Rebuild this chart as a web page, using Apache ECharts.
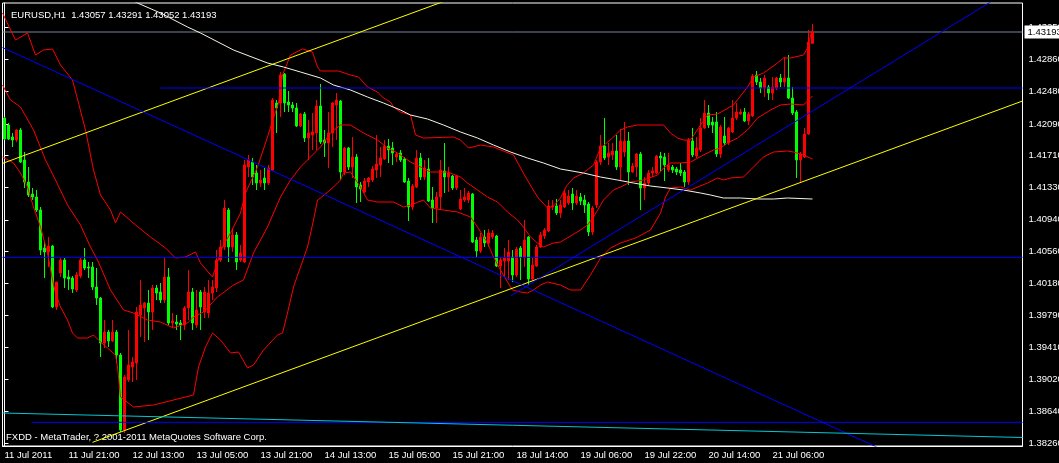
<!DOCTYPE html>
<html><head><meta charset="utf-8">
<script src="https://cdn.jsdelivr.net/npm/echarts@6/dist/echarts.min.js"></script>
<style>html,body{margin:0;padding:0;background:#000;overflow:hidden}#c{width:1059px;height:463px}</style>
</head><body><div id="c"></div>
<script>
const symbolTitle = 'EURUSD,H1';
const copyrightText = 'FXDD - MetaTrader, ? 2001-2011 MetaQuotes Software Corp.';
const timeLabels = ['11 Jul 2011','11 Jul 21:00','12 Jul 13:00','13 Jul 05:00','13 Jul 21:00','14 Jul 13:00','15 Jul 05:00','15 Jul 21:00','18 Jul 14:00','19 Jul 06:00','19 Jul 22:00','20 Jul 14:00','21 Jul 06:00'];
const priceTicks = [1.43250,1.42860,1.42480,1.42090,1.41710,1.41330,1.40940,1.40560,1.40180,1.39790,1.39410,1.39020,1.38640,1.38260];
const priceRange = [1.38225, 1.43541];
const barSlots = 255;
// [open, close, low, high]
const candles = [
[1.42161,1.41909,1.41897,1.42173],[1.42077,1.41909,1.41897,1.42101],[1.41933,1.41897,1.41813,1.41981],[1.41897,1.42017,1.41873,1.42029],
[1.42017,1.41633,1.41621,1.42041],[1.41657,1.41393,1.41321,1.41753],[1.41393,1.41237,1.41213,1.41573],[1.41249,1.41213,1.41177,1.41321],
[1.41213,1.41057,1.41033,1.41297],[1.41057,1.40577,1.40517,1.41093],[1.40601,1.40553,1.40241,1.40673],[1.40553,1.40625,1.40373,1.40733],
[1.40625,1.39893,1.39881,1.40637],[1.39893,1.40193,1.39857,1.40193],[1.40301,1.40457,1.40253,1.40481],[1.40457,1.40241,1.40121,1.40481],
[1.40253,1.40229,1.40097,1.40337],[1.40241,1.40109,1.40061,1.40265],[1.40097,1.40277,1.40073,1.40313],[1.40265,1.40457,1.40241,1.40481],
[1.40457,1.40361,1.40337,1.40601],[1.40373,1.40361,1.40241,1.40433],[1.40373,1.40133,1.40097,1.40433],[1.40133,1.40001,1.39917,1.40361],
[1.40001,1.39461,1.39293,1.40013],[1.39461,1.39593,1.39401,1.39737],[1.39593,1.39485,1.39413,1.39617],[1.39485,1.39593,1.39473,1.39737],
[1.39593,1.39317,1.39221,1.39617],[1.39317,1.38417,1.38393,1.39341],[1.38417,1.39053,1.38381,1.39077],[1.39017,1.39197,1.38993,1.39617],
[1.39173,1.39233,1.38993,1.39293],[1.39221,1.39833,1.39017,1.39893],[1.39797,1.39917,1.39533,1.40217],[1.39881,1.39941,1.39473,1.39953],
[1.39941,1.39833,1.39497,1.40097],[1.39833,1.40121,1.39617,1.40157],[1.40121,1.40061,1.39977,1.40157],[1.40073,1.39977,1.39941,1.40181],
[1.39977,1.40253,1.39941,1.40481],[1.40253,1.39701,1.39677,1.40361],[1.39701,1.39725,1.39653,1.39821],[1.39713,1.39689,1.39617,1.39797],
[1.39701,1.39677,1.39497,1.39737],[1.39677,1.39881,1.39617,1.39905],[1.39881,1.40073,1.39737,1.40337],[1.40073,1.39701,1.39617,1.40121],
[1.39677,1.39857,1.39641,1.40097],[1.40073,1.39893,1.39617,1.40097],[1.39833,1.40073,1.39761,1.40133],[1.39821,1.40061,1.39761,1.40217],
[1.40061,1.40133,1.39977,1.40217],[1.40121,1.40457,1.40073,1.40577],[1.40457,1.40613,1.40433,1.40697],[1.40613,1.41081,1.40577,1.41177],
[1.41057,1.40613,1.40433,1.41081],[1.40613,1.40757,1.40553,1.40841],[1.40757,1.40433,1.40337,1.40793],[1.40457,1.40541,1.40433,1.40637],
[1.40433,1.41597,1.40421,1.41657],[1.41573,1.41657,1.41453,1.41717],[1.41633,1.41453,1.41357,1.41681],[1.41501,1.41381,1.41297,1.41597],
[1.41381,1.41417,1.41333,1.41537],[1.41441,1.41381,1.41297,1.41561],[1.41381,1.41561,1.41357,1.41597],[1.41537,1.42377,1.41525,1.42401],
[1.42341,1.42281,1.41981,1.42377],[1.42341,1.42677,1.42173,1.42713],[1.42689,1.42341,1.42233,1.42701],[1.42353,1.42317,1.42233,1.42485],
[1.42317,1.42281,1.42233,1.42353],[1.42281,1.42065,1.42053,1.42341],[1.42065,1.42209,1.42053,1.42221],[1.42209,1.41921,1.41873,1.42233],
[1.41921,1.41981,1.41657,1.42137],[1.41957,1.41993,1.41777,1.42221],[1.41981,1.42305,1.41777,1.42377],[1.42305,1.41873,1.41849,1.42569],
[1.41897,1.41861,1.41693,1.42017],[1.41861,1.41981,1.41561,1.42233],[1.41981,1.42341,1.41813,1.42353],[1.42317,1.42377,1.41897,1.42461],
[1.42365,1.41513,1.41417,1.42377],[1.41513,1.41801,1.41477,1.41813],[1.41801,1.41573,1.41537,1.41813],[1.41573,1.41693,1.41441,1.41933],
[1.41693,1.41333,1.41141,1.41729],[1.41357,1.41309,1.41153,1.41393],[1.41273,1.41405,1.41261,1.41441],[1.41393,1.41441,1.41333,1.41453],
[1.41417,1.41549,1.41393,1.41585],[1.41537,1.41609,1.41441,1.41957],[1.41597,1.41681,1.41453,1.41813],[1.41669,1.41825,1.41657,1.41897],
[1.41825,1.41777,1.41621,1.41909],[1.41801,1.41741,1.41597,1.41873],[1.41693,1.41729,1.41633,1.41753],[1.41741,1.41657,1.41633,1.41777],
[1.41669,1.41393,1.41381,1.41693],[1.41405,1.41093,1.40925,1.41441],[1.41093,1.41345,1.41057,1.41369],[1.41333,1.41681,1.41321,1.41777],
[1.41681,1.41453,1.41417,1.41741],[1.41453,1.41561,1.41417,1.41657],[1.41549,1.41165,1.41153,1.41681],[1.41177,1.41081,1.40901,1.41333],
[1.41081,1.41213,1.40901,1.41273],[1.41213,1.41537,1.41057,1.41657],[1.41525,1.41453,1.41261,1.41861],[1.41453,1.41501,1.41273,1.41573],
[1.41465,1.41321,1.41297,1.41477],[1.41321,1.41465,1.41297,1.41477],[1.41069,1.41189,1.41057,1.41297],[1.41177,1.41213,1.41153,1.41321],
[1.41177,1.41261,1.41141,1.41285],[1.41249,1.40673,1.40661,1.41261],[1.40697,1.40565,1.40493,1.40733],[1.40565,1.40733,1.40541,1.40781],
[1.40733,1.40661,1.40613,1.40817],[1.40661,1.40781,1.40613,1.40829],[1.40733,1.40781,1.40709,1.40817],[1.40745,1.40385,1.40373,1.40757],
[1.40385,1.40457,1.40121,1.40493],[1.40445,1.40481,1.40253,1.40601],[1.40445,1.40553,1.40217,1.40697],[1.40493,1.40277,1.40193,1.40577],
[1.40277,1.40589,1.40253,1.40613],[1.40601,1.40493,1.40217,1.40625],[1.40493,1.40697,1.40373,1.40937],[1.40733,1.40229,1.40157,1.40745],
[1.40229,1.40397,1.40217,1.40481],[1.40385,1.40613,1.40373,1.40637],[1.40613,1.40757,1.40601,1.40793],[1.40745,1.40817,1.40709,1.40841],
[1.40805,1.41105,1.40793,1.41177],[1.41093,1.41105,1.41057,1.41177],[1.41105,1.41021,1.40997,1.41189],[1.41021,1.41117,1.40961,1.41177],
[1.41093,1.41261,1.41081,1.41297],[1.41141,1.41225,1.41117,1.41297],[1.41249,1.41141,1.41057,1.41321],[1.41141,1.41225,1.41117,1.41297],
[1.41213,1.41165,1.41117,1.41261],[1.41177,1.41117,1.41021,1.41237],[1.41129,1.40793,1.40745,1.41153],[1.40793,1.41081,1.40757,1.41105],
[1.41117,1.41633,1.41081,1.41657],[1.41633,1.41825,1.41597,1.41957],[1.41825,1.41681,1.41657,1.42161],[1.41693,1.41741,1.41597,1.41861],
[1.41717,1.41765,1.41657,1.41861],[1.41765,1.41573,1.41537,1.41957],[1.41573,1.41885,1.41417,1.42029],[1.41753,1.41885,1.41693,1.42113],
[1.41885,1.41513,1.41357,1.41993],[1.41513,1.41585,1.41501,1.41621],[1.41573,1.41729,1.41453,1.41741],[1.41729,1.41321,1.41057,1.41753],
[1.41321,1.41381,1.41177,1.41453],[1.41381,1.41501,1.41357,1.41537],[1.41501,1.41525,1.41453,1.41573],[1.41501,1.41705,1.41489,1.41717],
[1.41705,1.41681,1.41513,1.41753],[1.41693,1.41597,1.41405,1.41741],[1.41537,1.41597,1.41513,1.41741],[1.41573,1.41537,1.41501,1.41597],
[1.41549,1.41513,1.41477,1.41573],[1.41537,1.41501,1.41465,1.41621],[1.41513,1.41393,1.41333,1.41537],[1.41393,1.41897,1.41357,1.41921],
[1.41885,1.41717,1.41693,1.42041],[1.41705,1.41801,1.41681,1.41933],[1.41777,1.42041,1.41753,1.42161],[1.42041,1.42221,1.42029,1.42377],
[1.42221,1.42077,1.42041,1.42317],[1.42113,1.42077,1.41981,1.42173],[1.42113,1.41729,1.41693,1.42233],[1.41729,1.42053,1.41681,1.42077],
[1.41945,1.41861,1.41837,1.42173],[1.41861,1.42041,1.41837,1.42053],[1.41993,1.42161,1.41981,1.42377],[1.42161,1.42233,1.42137,1.42341],
[1.42209,1.42233,1.42197,1.42269],[1.42233,1.42125,1.42113,1.42281],[1.42125,1.42209,1.42077,1.42233],[1.42185,1.42665,1.42173,1.42689],
[1.42677,1.42593,1.42557,1.42725],[1.42593,1.42521,1.42461,1.42641],[1.42521,1.42641,1.42413,1.42677],[1.42533,1.42461,1.42377,1.42557],
[1.42461,1.42533,1.42377,1.42653],[1.42521,1.42641,1.42497,1.42653],[1.42641,1.42593,1.42533,1.42689],[1.42593,1.42641,1.42533,1.42893],
[1.42641,1.42401,1.42389,1.42917],[1.42401,1.42221,1.42197,1.42533],[1.42233,1.41657,1.41441,1.42257],[1.41657,1.41729,1.41381,1.41753],
[1.41693,1.41969,1.41681,1.42041],[1.41969,1.43073,1.41957,1.43217],[1.43057,1.43193,1.43052,1.43291]
];
// Bollinger bands: [bar index, price]
const upperBand = [[-0.5,1.43421],[2.75,1.43097],[5.75,1.43181],[7.75,1.42917],[9.75,1.42977],[12,1.42989],[14,1.42797],[17,1.42617],[20.25,1.42017],[22.25,1.41537],[24,1.41237],[26.5,1.41057],[27.75,1.40901],[29,1.41033],[32.75,1.40877],[36.5,1.40733],[40.25,1.40601],[42.75,1.40481],[45.25,1.40493],[47.75,1.40553],[49,1.40421],[52,1.40253],[54.5,1.40613],[56.5,1.40781],[59,1.41021],[60.25,1.41261],[63.25,1.41573],[65.75,1.41933],[67.25,1.42161],[68.5,1.42341],[69.5,1.42677],[71.5,1.42917],[74.5,1.42989],[77,1.42953],[78.25,1.42773],[79,1.42725],[83.5,1.42725],[86.5,1.42677],[88.5,1.42653],[90.75,1.42533],[93.25,1.42473],[94.75,1.42401],[96.5,1.42353],[97.25,1.42293],[99,1.42233],[101.5,1.42197],[102.25,1.42053],[102.75,1.41957],[104.75,1.41921],[112.25,1.41933],[114,1.41897],[116,1.41801],[119,1.41837],[122.25,1.41813],[127.25,1.41717],[130.25,1.41453],[133.25,1.41213],[135.75,1.41081],[137.25,1.41105],[139,1.41201],[140.5,1.41345],[142.25,1.41441],[144.75,1.41501],[147.25,1.41597],[149,1.41801],[152,1.41921],[154,1.42017],[155.75,1.42053],[158.25,1.42077],[161.5,1.42077],[164.75,1.42077],[166.5,1.41981],[168.25,1.41921],[169.75,1.41897],[171.5,1.41897],[174,1.42077],[175.75,1.42197],[178.25,1.42209],[182.25,1.42317],[185.75,1.42533],[187.25,1.42653],[189.75,1.42701],[193.25,1.42821],[194.75,1.42881],[196.5,1.42881],[199.75,1.42917],[200.75,1.43001],[201.75,1.43193],[202,1.43217]];
const middleBand = [[-0.5,1.42557],[1.5,1.42377],[4,1.42293],[7.25,1.42017],[10.25,1.41657],[12.75,1.41417],[15.75,1.41117],[19,1.40877],[21.5,1.40613],[23.25,1.40457],[26.5,1.40097],[29.75,1.39857],[32.25,1.39821],[35.75,1.39737],[39,1.39713],[42.25,1.39641],[45.75,1.39701],[47.25,1.39773],[49.75,1.39833],[53.25,1.40013],[57.25,1.40157],[59.75,1.40217],[62.25,1.40541],[65.75,1.40853],[69,1.41213],[71.5,1.41417],[74,1.41573],[75.75,1.41657],[79,1.41813],[81.5,1.41981],[84,1.42077],[86.5,1.42077],[89.75,1.41981],[93.25,1.41897],[95.75,1.41801],[98.25,1.41741],[101.5,1.41633],[106.5,1.41513],[110.75,1.41513],[114,1.41453],[115.75,1.41381],[118.25,1.41297],[120.75,1.41213],[123.25,1.41153],[125.75,1.41033],[128.25,1.40937],[129.75,1.40853],[131.5,1.40733],[133.25,1.40661],[134.75,1.40613],[137.25,1.40661],[139,1.40673],[144,1.40817],[145.75,1.40877],[147.25,1.40973],[149.75,1.41177],[152.25,1.41297],[154,1.41333],[156.5,1.41393],[159.75,1.41417],[163.25,1.41477],[164.75,1.41561],[166.5,1.41621],[169,1.41621],[171.5,1.41633],[174.75,1.41717],[177.25,1.41777],[179,1.41801],[180.75,1.41861],[183.25,1.41921],[185.75,1.42017],[188.25,1.42161],[191.5,1.42257],[194,1.42317],[196.5,1.42329],[199.75,1.42317],[201,1.42377],[202,1.42425]];
const lowerBand = [[-0.5,1.41693],[2.25,1.41621],[4,1.41501],[5.75,1.41333],[7.25,1.41093],[9,1.40853],[10.75,1.40541],[12,1.40217],[12.75,1.40061],[14,1.39893],[15.75,1.39737],[17,1.39581],[18.25,1.39521],[20.75,1.39521],[22.25,1.39557],[23.5,1.39497],[25.75,1.39401],[27.75,1.39317],[28.25,1.39173],[29,1.38813],[32.25,1.38693],[37.25,1.38717],[42.25,1.38777],[47.25,1.38837],[48.5,1.39173],[50.25,1.39413],[52,1.39581],[54,1.39497],[56.5,1.39341],[58.5,1.39353],[60.75,1.39161],[62.25,1.39197],[64.75,1.39377],[68.25,1.39557],[69.5,1.39581],[70.75,1.39821],[72.25,1.40133],[74,1.40373],[75.75,1.40613],[77.25,1.40937],[78.25,1.41177],[79,1.41201],[82.25,1.41333],[84,1.41417],[84.75,1.41501],[86.5,1.41513],[89,1.41333],[90.75,1.41177],[93.25,1.41153],[97.25,1.41153],[99.75,1.41093],[101.5,1.41117],[104.75,1.41177],[106.5,1.41081],[109.75,1.41057],[113.25,1.41033],[116.5,1.40973],[118.25,1.40853],[120.75,1.40661],[122.25,1.40493],[124,1.40337],[125.75,1.40193],[127,1.40097],[129,1.40073],[130.75,1.40061],[132.25,1.40097],[134,1.40157],[135.75,1.40193],[139,1.40157],[141.5,1.40097],[144,1.40097],[146.5,1.40277],[149,1.40481],[151.5,1.40601],[154,1.40661],[157.75,1.40721],[161.5,1.40817],[164,1.41021],[165.25,1.41213],[166.5,1.41321],[169,1.41333],[171.5,1.41297],[175.75,1.41381],[178.25,1.41441],[179.75,1.41417],[181.5,1.41441],[184.75,1.41453],[186.5,1.41537],[188.25,1.41621],[189.75,1.41693],[192.25,1.41753],[195.75,1.41765],[197.25,1.41753],[199.75,1.41717],[202,1.41669]];
const slowMA = [[26.5,1.43697],[33.25,1.43541],[39,1.43421],[45.75,1.43253],[49,1.43181],[57.25,1.42977],[65.75,1.42821],[69.75,1.42773],[74,1.42713],[79,1.42641],[82.25,1.42557],[86.5,1.42497],[90.75,1.42413],[94.75,1.42341],[99,1.42257],[101.5,1.42197],[105.75,1.42149],[109.75,1.42077],[114,1.41993],[118.25,1.41921],[122.25,1.41837],[126.5,1.41753],[130.75,1.41681],[134.75,1.41621],[139,1.41549],[144.75,1.41501],[149,1.41453],[153.25,1.41417],[157.25,1.41381],[161.5,1.41345],[165.75,1.41321],[169.75,1.41297],[174,1.41261],[176.5,1.41237],[179.75,1.41201],[184,1.41201],[188.25,1.41189],[192.25,1.41189],[195.75,1.41201],[202,1.41189]];
// drawn objects: [bar index, price] end points
const yellowUpperLine = [[-0.5,1.41616],[110,1.43563]];
const yellowLowerLine = [[22,1.38269],[254.5,1.42365]];
const blueDownLine = [[-0.5,1.43007],[218.5,1.38202]];
const blueUpLine = [[126.5,1.40025],[248,1.43597]];
const blueLevelHigh = [[39,1.42521],[254.5,1.42521]];
const blueLevelMid = [[-0.5,1.40489],[254.5,1.40489]];
const blueLevelLow = [[6.75,1.38509],[254.5,1.38509]];
const cyanLine = [[-0.5,1.38621],[254.5,1.38327]];

const FONT = "'Liberation Sans',Arial,sans-serif";
const FS = 9.5;
const last = candles[candles.length - 1];
const bidLine = [[-0.5, last[1]], [barSlots - 0.5, last[1]]];
const cats = Array.from({length: barSlots}, (_, i) => String(i));
const chart = echarts.init(document.getElementById('c'), null, {renderer: 'canvas'});
const lineSeries = (data, color, z) => ({
  type: 'line', xAxisIndex: 1, data, symbol: 'none', showSymbol: false, clip: true,
  silent: true, z, lineStyle: {color, width: 1}
});
const tickShown = i => i % 16 === 0 && i / 16 < timeLabels.length;
const bidSeries = lineSeries(bidLine, '#778899', 1);
bidSeries.endLabel = {show: true, formatter: last[1].toFixed(5), color: '#000', backgroundColor: '#fff',
  padding: [2, 3, 1, 3], fontSize: FS, fontFamily: FONT, distance: 2};
bidSeries.clip = false;
chart.setOption({
  animation: false,
  backgroundColor: '#000',
  title: {
    text: symbolTitle + '  ' + [last[0], last[3], last[2], last[1]].map(v => v.toFixed(5)).join(' '),
    left: 6, top: 5,
    textStyle: {color: '#fff', fontSize: FS, fontWeight: 'normal', fontFamily: FONT}
  },
  graphic: [{type: 'text', left: 6, top: 432, silent: true,
    style: {text: copyrightText, fill: '#fff', fontSize: FS, fontFamily: FONT}}],
  grid: {left: 2.5, top: 3, width: 1020, height: 443, outerBoundsMode: 'none', containLabel: false,
    show: true, backgroundColor: '#000', borderColor: '#fff', borderWidth: 1},
  xAxis: [
    {type: 'category', data: cats, boundaryGap: true,
     axisLine: {lineStyle: {color: '#fff'}},
     axisTick: {alignWithLabel: true, interval: (i) => tickShown(i), length: 4, lineStyle: {color: '#fff'}},
     axisLabel: {interval: (i) => tickShown(i), color: '#fff', fontSize: FS, fontFamily: FONT, align: 'left', margin: 4,
       hideOverlap: false, formatter: (v, i) => timeLabels[i / 16] || ''},
     splitLine: {show: false}},
    {type: 'value', min: -0.5, max: barSlots - 0.5, show: false}
  ],
  yAxis: {
    type: 'value', position: 'right', min: priceRange[0], max: priceRange[1],
    splitLine: {show: false},
    axisLine: {show: true, lineStyle: {color: '#fff'}},
    axisTick: {show: true, length: 4, customValues: priceTicks, lineStyle: {color: '#fff'}},
    axisLabel: {customValues: priceTicks, color: '#fff', fontSize: FS, fontFamily: FONT, margin: 6,
      hideOverlap: false, formatter: v => v.toFixed(5)}
  },
  series: [
    bidSeries,
    {type: 'candlestick', data: candles, barWidth: 2, z: 2,
     itemStyle: {color: '#ff0000', color0: '#00ff00', borderColor: '#ff0000', borderColor0: '#00ff00', borderWidth: 1}},
    lineSeries(upperBand, '#ff0000', 3),
    lineSeries(middleBand, '#ff0000', 3),
    lineSeries(lowerBand, '#ff0000', 3),
    lineSeries(slowMA, '#f4f4e6', 3),
    lineSeries(yellowUpperLine, '#ffff00', 4),
    lineSeries(yellowLowerLine, '#ffff00', 4),
    lineSeries(blueDownLine, '#0000ff', 4),
    lineSeries(blueUpLine, '#0000ff', 4),
    lineSeries(blueLevelHigh, '#0000ff', 4),
    lineSeries(blueLevelMid, '#0000ff', 4),
    lineSeries(blueLevelLow, '#0000ff', 4),
    lineSeries(cyanLine, '#00c8d2', 4)
  ]
});
</script></body></html>
